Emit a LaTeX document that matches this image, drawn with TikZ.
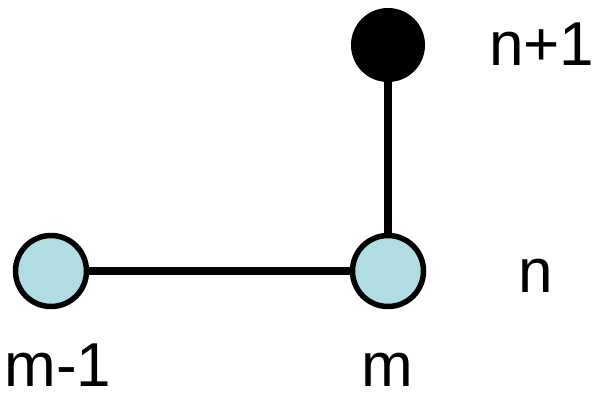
\documentclass[tikz,border=0pt]{standalone}
\usepackage{fontspec}
\setmainfont{Liberation Sans}
\definecolor{nodeblue}{RGB}{176,221,228}
\begin{document}
\begin{tikzpicture}[x=1pt,y=-1pt,
  site/.style={circle,draw=black,line width=5.5pt,fill=nodeblue,minimum size=71pt,inner sep=0pt},
  filled/.style={circle,draw=black,fill=black,line width=1pt,minimum size=73pt,inner sep=0pt},
  bond/.style={line width=7.5pt,draw=black},
  lbl/.style={inner sep=0pt,font=\fontsize{62}{62}\selectfont}]
  \useasboundingbox (0,0) rectangle (592,392);
  % lattice sites
  \node[site] (left) at (51,271) {};
  \node[site] (mid) at (388,271) {};
  \node[filled] (top) at (388,45) {};
  % bonds
  \draw[bond] (left) -- (mid);
  \draw[bond] (mid) -- (top);
  % row and column labels
  \node[lbl,anchor=base west] (lnp) at (489,65) {n+1};
  \node[lbl,anchor=base west] (ln) at (518,292) {n};
  \node[lbl,anchor=base] (lm) at (387,386) {m};
  \node[lbl,anchor=base] (lmm) at (58,386) {m-1};
\end{tikzpicture}
\end{document}
